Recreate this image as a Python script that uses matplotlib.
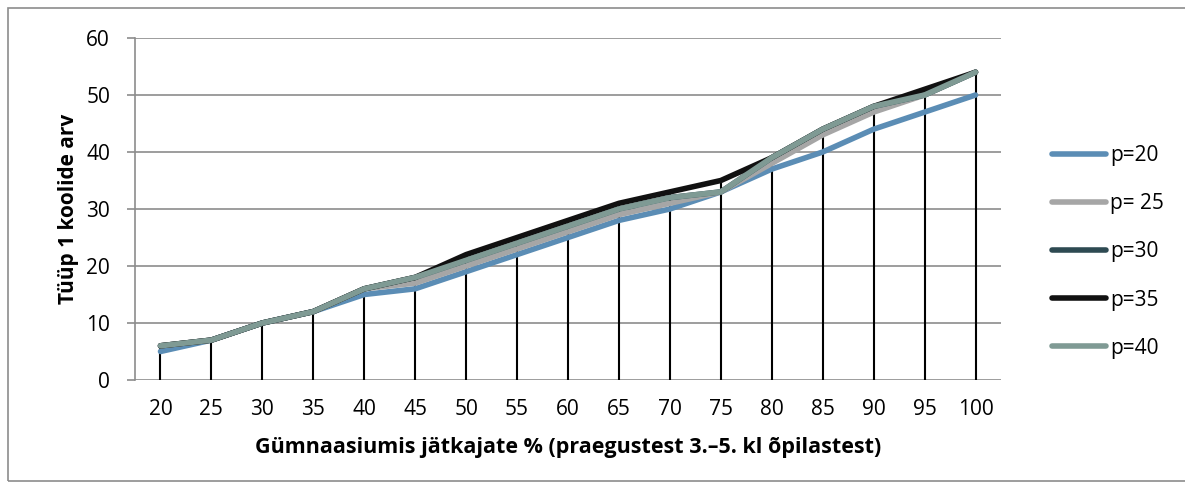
import numpy as np
import matplotlib
matplotlib.use("Agg")
import matplotlib.pyplot as plt
from matplotlib.patches import Rectangle

# categories (x) and series values
categories = ["20", "25", "30", "35", "40", "45", "50", "55", "60",
              "65", "70", "75", "80", "85", "90", "95", "100"]
p20 = [5, 7, 10, 12, 15, 16, 19, 22, 25, 28, 30, 33, 37, 40, 44, 47, 50]
p25 = [6, 7, 10, 12, 16, 17, 20, 23, 26, 29, 31, 33, 38, 43, 47, 50, 54]
p30 = [6, 7, 10, 12, 16, 18, 21, 24, 27, 30, 32, 33, 39, 44, 48, 50, 54]
p35 = [6, 7, 10, 12, 16, 18, 22, 25, 28, 31, 33, 35, 39, 44, 48, 51, 54]
p40 = [6, 7, 10, 12, 16, 18, 21, 24, 27, 30, 32, 33, 39, 44, 48, 50, 54]
labels = ["p=20", "p= 25", "p=30", "p=35", "p=40"]
colors = ["#5b8db5", "#a6a6a6", "#2e4a52", "#111111", "#7f9a94"]

plt.rcParams['font.family'] = ['Open Sans', 'DejaVu Sans']
fs = 15

fig = plt.figure(figsize=(11.85, 4.88), dpi=100)
W, H = 1185, 488
ax = fig.add_axes([135 / W, 1 - 380 / H, 866 / W, 342 / H])

x = np.arange(len(categories))
series = [p20, p25, p30, p35, p40]

# drop lines from the highest series down to zero
top = np.max(np.array(series), axis=0)
ax.vlines(x, 0, top, colors="black", linewidth=1.5, zorder=2)

for vals, lab, col in zip(series, labels, colors):
    ax.plot(x, vals, color=col, linewidth=4, label=lab,
            solid_capstyle="round", solid_joinstyle="round", zorder=3)

ax.set_xlim(-0.5, len(categories) - 0.5)
ax.set_ylim(0, 60)
ax.set_yticks(range(0, 61, 10))
ax.set_xticks(x)
ax.set_xticklabels(categories)
ax.yaxis.grid(True, color="#8c8c8c", linewidth=1.2, zorder=0)
ax.set_axisbelow(True)

for s in ["top", "right", "bottom"]:
    ax.spines[s].set_visible(False)
ax.spines["left"].set_color("#8c8c8c")
ax.spines["left"].set_linewidth(1.2)
ax.tick_params(axis="y", length=6, color="#8c8c8c", width=1.2,
               labelsize=fs, pad=12)
ax.tick_params(axis="x", length=0, labelsize=fs, pad=14)

ax.set_ylabel("Tüüp 1 koolide arv", fontsize=fs, fontweight="bold",
              labelpad=5)
ax.set_xlabel("Gümnaasiumis jätkajate % (praegustest 3.–5. kl õpilastest)",
              fontsize=15.5, fontweight="bold", labelpad=12)

fig.legend(loc="center left", bbox_to_anchor=(1033 / W, 1 - 252 / H),
           frameon=False, fontsize=fs, handlelength=2.6,
           handletextpad=0.2, labelspacing=1.3)

# outer chart border
fig.patches.append(Rectangle((8 / W, 7 / H), 1190 / W, 473 / H,
                             transform=fig.transFigure, fill=False,
                             edgecolor="#8c8c8c", linewidth=1.2))

fig.savefig("out.png", dpi=100)
